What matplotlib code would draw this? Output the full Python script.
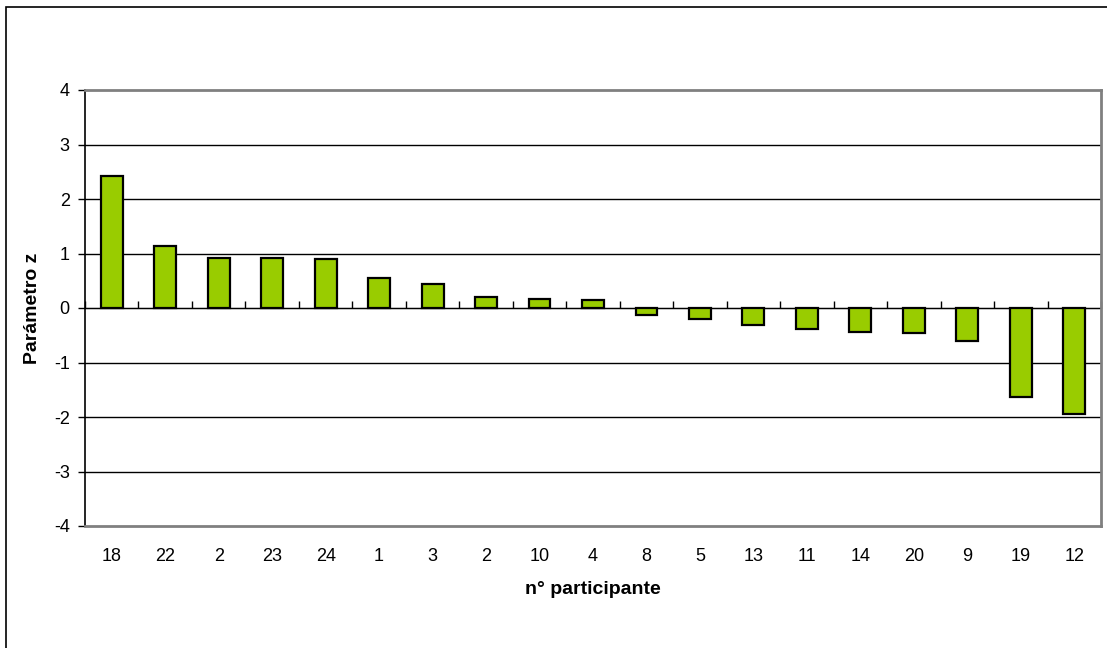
import matplotlib
matplotlib.use("Agg")
import matplotlib.pyplot as plt
from matplotlib.patches import Rectangle
import numpy as np

plt.rcParams['font.family'] = ['Liberation Sans', 'DejaVu Sans']

participants = ['18', '22', '2', '23', '24', '1', '3', '2', '10', '4',
                '8', '5', '13', '11', '14', '20', '9', '19', '12']
z_values = [2.43, 1.14, 0.91, 0.91, 0.90, 0.55, 0.44, 0.20, 0.16, 0.15,
            -0.12, -0.21, -0.31, -0.38, -0.44, -0.45, -0.60, -1.64, -1.94]
y_ticks = [-4, -3, -2, -1, 0, 1, 2, 3, 4]

fig = plt.figure(figsize=(11.07, 6.48), dpi=100)
ax = fig.add_axes([85 / 1107, 1 - 526 / 648, 1016 / 1107, 436 / 648])

x = np.arange(len(participants))
ax.bar(x, z_values, width=0.41, color='#99CC00', edgecolor='black',
       linewidth=1.6, zorder=3)

ax.set_xlim(-0.5, len(participants) - 0.5)
ax.set_ylim(-4, 4)
ax.set_yticks(y_ticks)
ax.set_yticklabels([str(v) for v in y_ticks], fontsize=13)
ax.tick_params(axis='y', direction='out', length=5, width=1, pad=6)
ax.set_xticks(x)
ax.set_xticklabels(participants, fontsize=13)
ax.tick_params(axis='x', length=0, pad=16)

for v in y_ticks[1:-1]:
    ax.axhline(v, color='black', linewidth=1, zorder=1)

for side in ['top', 'right', 'bottom']:
    ax.spines[side].set_color('#808080')
    ax.spines[side].set_linewidth(2)
ax.spines['left'].set_color('black')
ax.spines['left'].set_linewidth(1.2)

# zero line with category-boundary ticks
sec = ax.secondary_xaxis(0.5)
sec.set_xticks(np.arange(len(participants) + 1) - 0.5)
sec.set_xticklabels([])
sec.tick_params(direction='out', length=5, width=1, color='black')
sec.spines['bottom'].set_color('black')
sec.spines['bottom'].set_linewidth(1.2)

ax.set_xlabel('n° participante', fontsize=14, fontweight='bold')
ax.xaxis.set_label_coords(0.5, -0.127)
ax.set_ylabel('Parámetro z', fontsize=14, fontweight='bold')
ax.yaxis.set_label_coords(-0.043, 0.5)

fig.add_artist(Rectangle((6 / 1107, -0.5), 2, 1.5 - 7 / 648,
                         transform=fig.transFigure, fill=False,
                         edgecolor='black', linewidth=1.2))

fig.savefig('out.png', dpi=100)
